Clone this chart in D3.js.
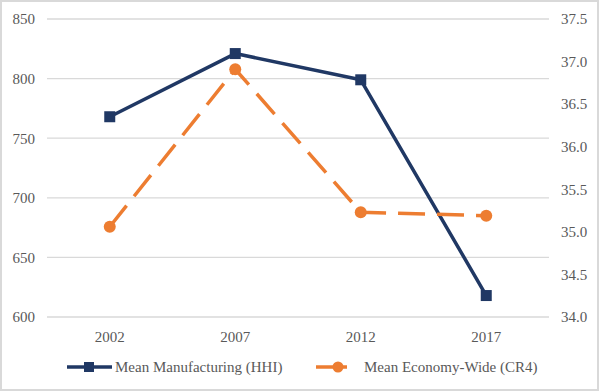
<!DOCTYPE html>
<html><head><meta charset="utf-8">
<script src="https://cdn.jsdelivr.net/npm/d3@7"></script>
<style>body{margin:0;background:#fff}svg{display:block}</style>
</head><body>
<script>
const years = ["2002","2007","2012","2017"];
const hhi = [768, 821, 799, 618];
const cr4 = [35.06, 36.91, 35.23, 35.19];
const leftTicks = [600, 650, 700, 750, 800, 850];
const rightTicks = [34.0, 34.5, 35.0, 35.5, 36.0, 36.5, 37.0, 37.5];
const seriesNames = ["Mean Manufacturing (HHI)", "Mean Economy-Wide (CR4)"];

const W = 600, H = 392;
const navy = "#203864", orange = "#ED7D31", grid = "#d9d9d9", txt = "#595959";
const fs = "15px";
const ff = '"Liberation Serif", "Times New Roman", serif';

const svg = d3.select("body").append("svg").attr("width", W).attr("height", H);
svg.append("rect").attr("x", 1).attr("y", 1).attr("width", W - 3).attr("height", H - 3)
  .attr("fill", "#fff").attr("stroke", "#d9d9d9").attr("stroke-width", 2);

const x = d3.scaleBand().domain(years).range([47, 549]);
const yL = d3.scaleLinear().domain([600, 850]).range([317, 19]);
const yR = d3.scaleLinear().domain([34, 37.5]).range([317, 19]);

svg.append("g").selectAll("line").data(leftTicks).join("line")
  .attr("x1", 47).attr("x2", 549)
  .attr("y1", d => yL(d)).attr("y2", d => yL(d))
  .attr("stroke", grid).attr("stroke-width", 1.3);

const axL = svg.append("g").attr("transform", "translate(47,0)")
  .call(d3.axisLeft(yL).tickValues(leftTicks).tickSize(0).tickPadding(12).tickFormat(d3.format("d")));
axL.select(".domain").remove();
const axR = svg.append("g").attr("transform", "translate(549,0)")
  .call(d3.axisRight(yR).tickValues(rightTicks).tickSize(0).tickPadding(12).tickFormat(d3.format(".1f")));
axR.select(".domain").remove();
const axX = svg.append("g").attr("transform", "translate(0,317)")
  .call(d3.axisBottom(x).tickSize(0).tickPadding(14));
axX.select(".domain").remove();

const lineL = d3.line().x((d, i) => x(years[i]) + x.bandwidth() / 2).y(d => yL(d));
const lineR = d3.line().x((d, i) => x(years[i]) + x.bandwidth() / 2).y(d => yR(d));

svg.append("path").datum(hhi).attr("d", lineL).attr("fill", "none")
  .attr("stroke", navy).attr("stroke-width", 3.5).attr("stroke-linejoin", "round");
svg.append("g").selectAll("rect").data(hhi).join("rect")
  .attr("x", (d, i) => x(years[i]) + x.bandwidth() / 2 - 5.5)
  .attr("y", d => yL(d) - 5.5).attr("width", 11).attr("height", 11).attr("fill", navy);

svg.append("path").datum(cr4).attr("d", lineR).attr("fill", "none")
  .attr("stroke", orange).attr("stroke-width", 3.5).attr("stroke-dasharray", "27,12");
svg.append("g").selectAll("circle").data(cr4).join("circle")
  .attr("cx", (d, i) => x(years[i]) + x.bandwidth() / 2)
  .attr("cy", d => yR(d)).attr("r", 6).attr("fill", orange);

const ly = 367;
const lg = svg.append("g");
lg.append("line").attr("x1", 67).attr("x2", 112).attr("y1", ly).attr("y2", ly)
  .attr("stroke", navy).attr("stroke-width", 3.5);
lg.append("rect").attr("x", 84).attr("y", ly - 5).attr("width", 10).attr("height", 10).attr("fill", navy);
lg.append("text").attr("x", 115).attr("y", ly).attr("dy", "0.35em").text(seriesNames[0]);
lg.append("line").attr("x1", 316).attr("x2", 347).attr("y1", ly).attr("y2", ly)
  .attr("stroke", orange).attr("stroke-width", 3.5);
lg.append("circle").attr("cx", 338).attr("cy", ly).attr("r", 5.5).attr("fill", orange);
lg.append("text").attr("x", 364).attr("y", ly).attr("dy", "0.35em").text(seriesNames[1]);

svg.selectAll("text").style("font-family", ff).style("font-size", fs).attr("fill", txt);
</script>
</body></html>
